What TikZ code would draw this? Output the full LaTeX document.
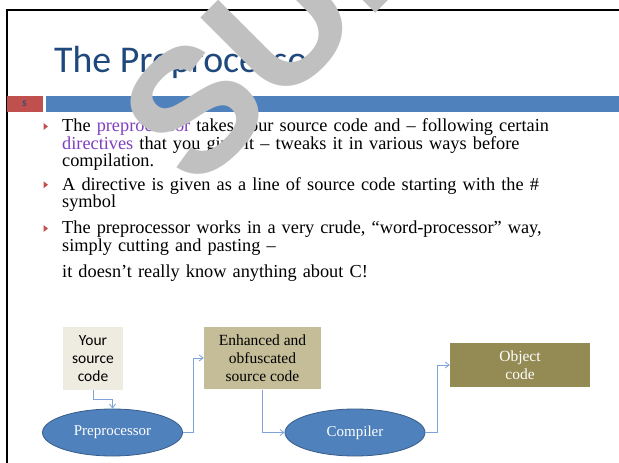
\documentclass[tikz,border=0pt]{standalone}
\usepackage{fontspec}
\setmainfont{Liberation Serif}
\newfontfamily\slidesans{Carlito}
\newfontfamily\markfont{Liberation Sans}
\usetikzlibrary{arrows.meta,shapes.geometric,positioning}

\definecolor{titleblue}{HTML}{1F497D}
\definecolor{barblue}{HTML}{4F81BD}
\definecolor{numred}{HTML}{C0504D}
\definecolor{kwpurple}{HTML}{7F3FBF}
\definecolor{srcfill}{HTML}{EEECE1}
\definecolor{enhfill}{HTML}{C4BD97}
\definecolor{objfill}{HTML}{948A54}
\definecolor{ellborder}{HTML}{385D8A}
\definecolor{flowline}{HTML}{7EA3D8}
\definecolor{markgray}{HTML}{C0C0C0}

\tikzset{
	bodytext/.style={anchor=base west, inner sep=0pt, text width=540pt, align=left,
			font={\fontsize{18.3}{17.6}\selectfont}},
	flowbox/.style={inner sep=0pt, align=center, font={\fontsize{15.5}{18.3}\selectfont}},
	stage/.style={ellipse, draw=ellborder, line width=0.8pt, fill=barblue, text=white,
			inner sep=0pt, minimum width=140pt, minimum height=47pt,
			font={\fontsize{15}{18}\selectfont}},
	flow/.style={draw=flowline, line width=0.8pt, -{Straight Barb[length=4pt,width=6pt]}}
}

\begin{document}
\begin{tikzpicture}[x=1pt,y=-1pt]
	\useasboundingbox (0,0) rectangle (619,463);
	\fill[white] (0,0) rectangle (619,463);

	% slide frame and header
	\draw[line width=1.8pt] (6.7,480) -- (6.7,10) -- (640,10);
	\fill[numred] (7,96) rectangle (43,112);
	\fill[barblue] (46,96) rectangle (640,112);
	\node[inner sep=0pt, text=titleblue, font={\slidesans\bfseries\fontsize{8.5}{8.5}\selectfont}] (num) at (24.5,104) {5};
	\node[anchor=base west, inner sep=0pt, text=titleblue, font={\slidesans\fontsize{37.8}{40}\selectfont}] (title) at (54,72) {The Preprocessor};

	% bullets
	\foreach \by in {126.5,184.8,228.5}
		\fill[numred] (43.5,\by-3.5) -- (48,\by) -- (43.5,\by+3.5) -- cycle;

	\node[bodytext] (par1) at (62,131.7) {The {\color{kwpurple}preprocessor} takes your source code and -- following certain\\
		{\color{kwpurple}directives} that you give it -- tweaks it in various ways before\\
		compilation.};
	\node[bodytext] (par2) at (62,190) {A directive is given as a line of source code starting with the \#\\
		symbol};
	\node[bodytext] (par3) at (62,233.5) {The preprocessor works in a very crude, ``word-processor'' way,\\
		simply cutting and pasting --};
	\node[bodytext] (par4) at (62,277.5) {it doesn't really know anything about C!};

	% watermark
	\node[anchor=base west, rotate=45, inner sep=0pt, text=markgray, font={\markfont\bfseries\fontsize{175}{175}\selectfont}] (mark) at (195.7,193.4) {SUB};

	% flow diagram
	\node[flowbox, fill=srcfill, minimum width=60pt, minimum height=63.3pt, font={\slidesans\fontsize{15.5}{18.3}\selectfont}] (src) at (93,358.4) {Your\\source\\code};
	\node[flowbox, fill=enhfill, minimum width=117pt, minimum height=62.6pt] (enh) at (262.5,358) {Enhanced and\\obfuscated\\source code};
	\node[flowbox, fill=objfill, text=white, minimum width=140pt, minimum height=43.4pt] (obj) at (520,365) {Object\\code};
	\node[stage] (pre) at (112.5,432.5) {Preprocessor};
	\node[stage] (comp) at (355,432.5) {Compiler};

	\draw[flow] (src.south) -- ++(0,9) -| (pre.north);
	\draw[flow] (pre.east) -- ++(10.6,0) |- (enh.west);
	\draw[flow] (enh.south) |- (comp.west);
	\draw[flow] (comp.east) -- ++(11.7,0) |- (obj.west);
\end{tikzpicture}
\end{document}
